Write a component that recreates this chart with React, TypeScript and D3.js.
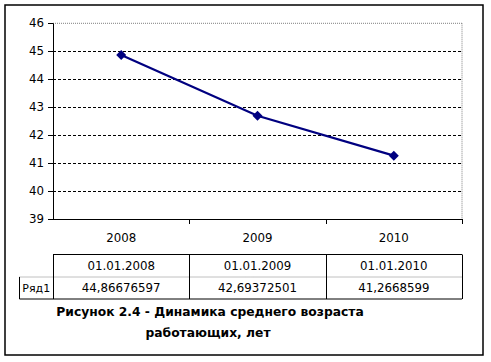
import React from "react";
import * as d3 from "d3";

const categories = ["2008", "2009", "2010"];
const dateLabels = ["01.01.2008", "01.01.2009", "01.01.2010"];
const seriesName = "Ряд1";
const values = [44.86676597, 42.69372501, 41.2668599];
const valueLabels = ["44,86676597", "42,69372501", "41,2668599"];
const yTicks = [39, 40, 41, 42, 43, 44, 45, 46];
const captionLines = ["Рисунок 2.4 - Динамика среднего возраста", "работающих, лет"];

export default function App() {
  const W = 491, H = 362;
  const left = 53, right = 462, top = 23.3, bottom = 219;
  const x = d3.scaleBand<string>().domain(categories).range([left, right]).padding(0);
  const y = d3.scaleLinear().domain([39, 46]).range([bottom, top]);
  const line = d3.line<number>()
    .x((_, i) => (x(categories[i]) as number) + x.bandwidth() / 2)
    .y((d) => y(d));
  const font = "Tahoma, 'DejaVu Sans', Verdana, sans-serif";
  const fs = 11.8;
  const tTop = 254.5, tMid = 277, tBot = 299, rowLeft = 19.5;
  const bounds = [left, ...categories.map((c) => (x(c) as number) + x.bandwidth())];
  return (
    <div style={{ position: "absolute", left: 0, top: 0 }}>
      <svg width={W} height={H} style={{ display: "block" }} fontFamily={font}>
        <rect x={0} y={0} width={W} height={H} fill="#fff" />
        <rect x={5} y={5} width={478} height={350} fill="#fff" stroke="#000" strokeWidth={1.5} />
        {/* plot area border (gray dotted) */}
        <line x1={left} x2={right} y1={top} y2={top} stroke="#808080" strokeWidth={1} strokeDasharray="1 1" />
        <line x1={right} x2={right} y1={top} y2={bottom} stroke="#808080" strokeWidth={1} strokeDasharray="1 1" />
        {/* gridlines */}
        {yTicks.filter((t) => t !== 39 && t !== 46).map((t) => (
          <line key={t} x1={left} x2={right} y1={Math.round(y(t)) + 0.5} y2={Math.round(y(t)) + 0.5}
            stroke="#000" strokeWidth={1} strokeDasharray="3 2" />
        ))}
        {/* axes */}
        <line x1={left + 0.5} x2={left + 0.5} y1={top} y2={bottom} stroke="#000" strokeWidth={1} />
        <line x1={left} x2={right} y1={Math.round(bottom) + 0.5} y2={Math.round(bottom) + 0.5} stroke="#000" strokeWidth={1} />
        {yTicks.map((t) => (
          <g key={t}>
            <line x1={left - 5} x2={left} y1={Math.round(y(t)) + 0.5} y2={Math.round(y(t)) + 0.5} stroke="#000" />
            <text x={left - 9} y={y(t)} dy="0.35em" textAnchor="end" fontSize={fs} fill="#000">{t}</text>
          </g>
        ))}
        {bounds.slice(1).map((b, i) => (
          <line key={i} x1={Math.round(b) + 0.5} x2={Math.round(b) + 0.5} y1={bottom} y2={bottom + 5} stroke="#000" />
        ))}
        {categories.map((c) => (
          <text key={c} x={(x(c) as number) + x.bandwidth() / 2} y={238} dy="0.35em" textAnchor="middle" fontSize={fs} fill="#000">{c}</text>
        ))}
        {/* series */}
        <path d={line(values) || ""} fill="none" stroke="#000080" strokeWidth={2.2} />
        {values.map((v, i) => {
          const cx = (x(categories[i]) as number) + x.bandwidth() / 2;
          const cy = y(v);
          const s = 5;
          return <path key={i} d={`M${cx},${cy - s}L${cx + s},${cy}L${cx},${cy + s}L${cx - s},${cy}Z`} fill="#000080" />;
        })}
        {/* data table */}
        <line x1={left} x2={right} y1={tTop} y2={tTop} stroke="#000" />
        <line x1={rowLeft} x2={right} y1={tMid} y2={tMid} stroke="#808080" strokeDasharray="1 1" />
        <line x1={rowLeft} x2={right} y1={tBot} y2={tBot} stroke="#000" />
        <line x1={rowLeft} x2={rowLeft} y1={tMid} y2={tBot} stroke="#000" />
        {bounds.map((b, i) => (
          <line key={i} x1={Math.round(b) + 0.5} x2={Math.round(b) + 0.5} y1={tTop} y2={tBot} stroke="#000" />
        ))}
        {dateLabels.map((d, i) => (
          <text key={d} x={(x(categories[i]) as number) + x.bandwidth() / 2} y={(tTop + tMid) / 2} dy="0.35em" textAnchor="middle" fontSize={fs} fill="#000">{d}</text>
        ))}
        {valueLabels.map((d, i) => (
          <text key={d} x={(x(categories[i]) as number) + x.bandwidth() / 2} y={(tMid + tBot) / 2} dy="0.35em" textAnchor="middle" fontSize={fs} fill="#000">{d}</text>
        ))}
        <text x={(rowLeft + left) / 2} y={(tMid + tBot) / 2} dy="0.35em" textAnchor="middle" fontSize={fs - 0.8} fill="#000">{seriesName}</text>
        {/* caption */}
        <text x={210} y={312} dy="0.35em" textAnchor="middle" fontSize={12.3} fontWeight="bold" fill="#000">{captionLines[0]}</text>
        <text x={208} y={333} dy="0.35em" textAnchor="middle" fontSize={12.3} fontWeight="bold" fill="#000">{captionLines[1]}</text>
      </svg>
    </div>
  );
}
